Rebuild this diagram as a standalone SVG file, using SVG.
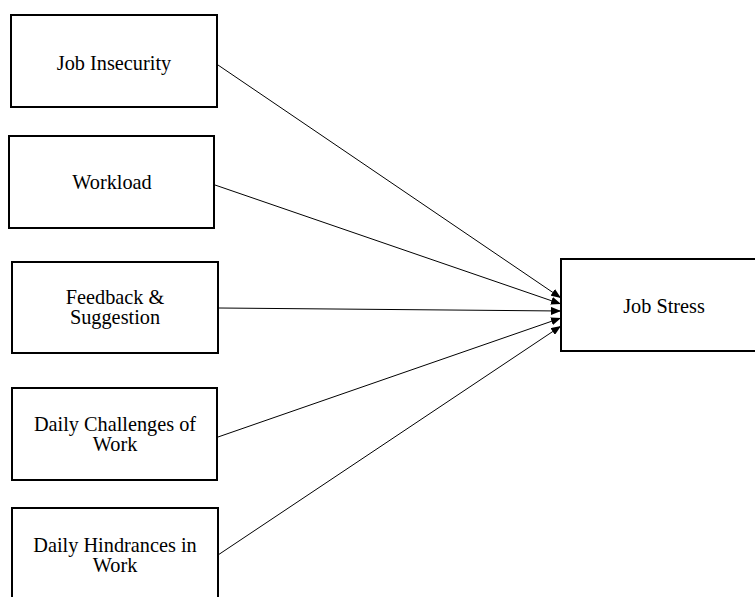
<svg xmlns="http://www.w3.org/2000/svg" width="755" height="597" viewBox="0 0 755 597">
<style>
.box{fill:#fff;stroke:#000;stroke-width:2}
.t{font-family:"Liberation Serif","Times New Roman",serif;font-size:20.3px;fill:#000;text-anchor:middle}
.c{stroke:#000;stroke-width:1;fill:none;marker-end:url(#ah)}
</style>
<defs>
<marker id="ah" viewBox="0 0 10 8" refX="10" refY="4" markerWidth="10" markerHeight="8" markerUnits="userSpaceOnUse" orient="auto">
<path d="M0,0 L10,4 L0,8 Z" fill="#000"/>
</marker>
</defs>
<rect width="755" height="597" fill="#fff"/>
<g id="connectors">
<line class="c" x1="218" y1="65" x2="561" y2="298"/>
<line class="c" x1="215" y1="185" x2="561" y2="304"/>
<line class="c" x1="219" y1="308" x2="561" y2="311"/>
<line class="c" x1="218" y1="437" x2="561" y2="318"/>
<line class="c" x1="218" y1="555" x2="561" y2="326"/>
</g>
<g id="job-insecurity">
<rect class="box" x="11" y="15" width="206" height="92"/>
<text class="t" x="114" y="70">Job Insecurity</text>
</g>
<g id="workload">
<rect class="box" x="9" y="136" width="205" height="92"/>
<text class="t" x="112" y="189">Workload</text>
</g>
<g id="feedback">
<rect class="box" x="12" y="262" width="206" height="91"/>
<text class="t" x="115" y="304">Feedback &amp;</text>
<text class="t" x="115" y="324">Suggestion</text>
</g>
<g id="daily-challenges">
<rect class="box" x="12" y="388" width="205" height="92"/>
<text class="t" x="115" y="431">Daily Challenges of</text>
<text class="t" x="115" y="451">Work</text>
</g>
<g id="daily-hindrances">
<rect class="box" x="12" y="508" width="206" height="100"/>
<text class="t" x="115" y="552">Daily Hindrances in</text>
<text class="t" x="115" y="572">Work</text>
</g>
<g id="job-stress">
<rect class="box" x="561" y="259" width="210" height="92"/>
<text class="t" x="664" y="313">Job Stress</text>
</g>
</svg>
